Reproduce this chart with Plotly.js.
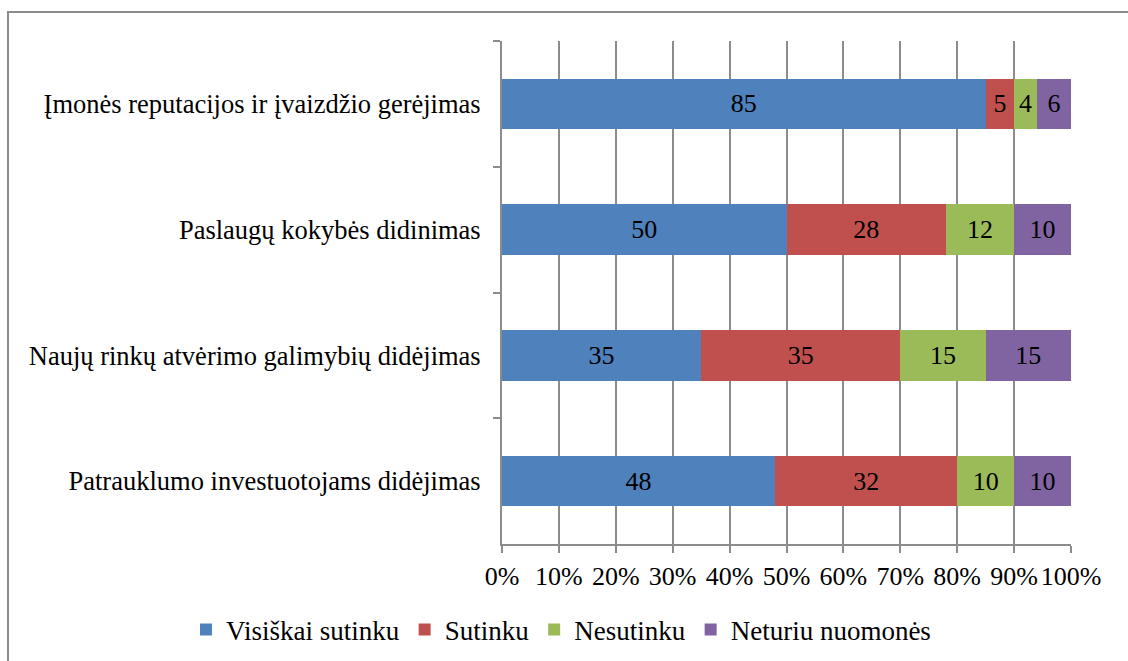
<!DOCTYPE html>
<html>
<head>
<meta charset="utf-8">
<script src="https://cdn.plot.ly/plotly-3.0.1.min.js"></script>
<style>
  html, body { margin: 0; padding: 0; background: #ffffff; }
  #chart { width: 1128px; height: 661px; position: relative; }
  #frame { position: absolute; left: 7px; top: 11px; width: 1200px; height: 700px;
           border-left: 2px solid #8c8c8c; border-top: 2px solid #8c8c8c; pointer-events: none; }
</style>
</head>
<body>
<div id="chart"></div>
<div id="frame"></div>
<script>
const categories = [
  "Įmonės reputacijos ir įvaizdžio gerėjimas",
  "Paslaugų kokybės didinimas",
  "Naujų rinkų atvėrimo galimybių didėjimas",
  "Patrauklumo investuotojams didėjimas"
];
const seriesNames = ["Visiškai sutinku", "Sutinku", "Nesutinku", "Neturiu nuomonės"];
const visiskaiSutinku = [85, 50, 35, 48];
const sutinku = [5, 28, 35, 32];
const nesutinku = [4, 12, 15, 10];
const neturiuNuomones = [6, 10, 15, 10];
const xTickValues = [0, 10, 20, 30, 40, 50, 60, 70, 80, 90, 100];
const xTickLabels = ["0%", "10%", "20%", "30%", "40%", "50%", "60%", "70%", "80%", "90%", "100%"];

const colors = ["#4F81BD", "#C0504D", "#9BBB59", "#8064A2"];
const seriesValues = [visiskaiSutinku, sutinku, nesutinku, neturiuNuomones];
const FONT = "'Liberation Serif', 'Times New Roman', serif";

const traces = seriesValues.map((vals, i) => ({
  type: "bar",
  orientation: "h",
  name: seriesNames[i],
  y: categories,
  x: vals,
  text: vals.map(String),
  textposition: "inside",
  insidetextanchor: "middle",
  textangle: 0,
  constraintext: "none",
  insidetextfont: { family: FONT, size: 26, color: "#000000" },
  marker: { color: colors[i], line: { width: 0 } },
  hoverinfo: "none"
}));

const layout = {
  width: 1128,
  height: 661,
  margin: { l: 502, r: 57, t: 41, b: 117, pad: 0, autoexpand: false },
  paper_bgcolor: "#ffffff",
  plot_bgcolor: "#ffffff",
  barmode: "stack",
  bargap: 0.6,
  font: { family: FONT, size: 26, color: "#000000" },
  xaxis: {
    range: [0, 100],
    tickvals: xTickValues,
    ticktext: xTickLabels,
    showgrid: true,
    gridcolor: "#8c8c8c",
    gridwidth: 2,
    zeroline: false,
    showline: true,
    linecolor: "#8c8c8c",
    linewidth: 2,
    ticks: "outside",
    ticklen: 7,
    tickwidth: 2,
    tickcolor: "#8c8c8c",
    tickfont: { family: FONT, size: 26, color: "#000000" },
    ticklabelstandoff: 1,
    automargin: false,
    fixedrange: true
  },
  yaxis: {
    type: "category",
    categoryorder: "array",
    categoryarray: categories,
    autorange: "reversed",
    showgrid: false,
    zeroline: false,
    showline: true,
    linecolor: "#8c8c8c",
    linewidth: 2,
    ticks: "outside",
    tickson: "boundaries",
    ticklen: 7,
    tickwidth: 2,
    tickcolor: "#8c8c8c",
    tickfont: { family: FONT, size: 26.5, color: "#000000" },
    ticklabelstandoff: 14,
    automargin: false,
    fixedrange: true
  },
  showlegend: true,
  legend: {
    orientation: "h",
    xref: "paper",
    yref: "paper",
    x: (186 - 502) / 569,
    xanchor: "left",
    y: -0.171,
    yanchor: "middle",
    font: { family: FONT, size: 27, color: "#000000" },
    itemwidth: 30,
    traceorder: "normal"
  }
};

Plotly.newPlot("chart", traces, layout, { displayModeBar: false, staticPlot: true });
</script>
</body>
</html>
